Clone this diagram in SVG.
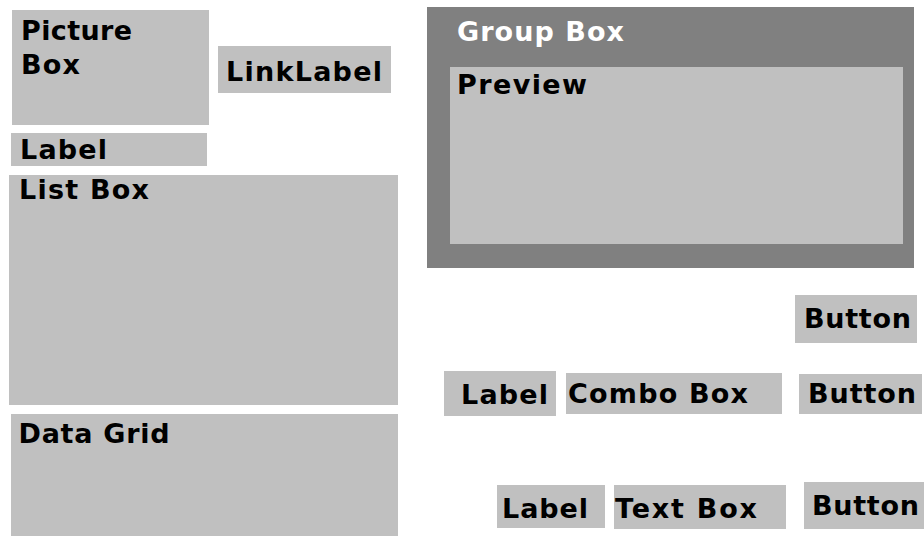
<svg xmlns="http://www.w3.org/2000/svg" width="924" height="536" viewBox="0 0 924 536">
<style>
.ctl{fill:#c0c0c0}
.grp{fill:#808080}
text{font-family:"DejaVu Sans","Verdana",sans-serif;font-weight:bold;font-size:27px;fill:#000}
.w{fill:#fff}
</style>
<rect width="924" height="536" fill="#fff"/>
<g id="picturebox"><rect class="ctl" x="12" y="10" width="197" height="115"/>
<text x="21" y="40" font-size="24" textLength="111">Picture</text>
<text x="21" y="74" font-size="24" textLength="59">Box</text></g>
<g id="linklabel"><rect class="ctl" x="218" y="46" width="173" height="47"/>
<text x="226" y="81" font-size="28" textLength="156">LinkLabel</text></g>
<g id="label1"><rect class="ctl" x="11" y="133" width="196" height="33"/>
<text x="20" y="159" textLength="87">Label</text></g>
<g id="listbox"><rect class="ctl" x="9" y="175" width="389" height="230"/>
<text x="19" y="199" font-size="26" textLength="130">List Box</text></g>
<g id="datagrid"><rect class="ctl" x="11" y="414" width="387" height="122"/>
<text x="18.5" y="443" font-size="26" textLength="151">Data Grid</text></g>
<g id="groupbox"><rect class="grp" x="427" y="7" width="487" height="261"/>
<text class="w" x="457" y="41" font-size="26" textLength="167">Group Box</text></g>
<g id="preview"><rect class="ctl" x="450" y="67" width="453" height="177"/>
<text x="457" y="94" textLength="130">Preview</text></g>
<g id="button1"><rect class="ctl" x="795" y="295" width="122" height="48"/>
<text x="804" y="328" textLength="107">Button</text></g>
<g id="label2"><rect class="ctl" x="444" y="371" width="112" height="45"/>
<text x="461" y="404" textLength="87">Label</text></g>
<g id="combobox"><rect class="ctl" x="566" y="373" width="216" height="41"/>
<text x="568" y="403" textLength="180">Combo Box</text></g>
<g id="button2"><rect class="ctl" x="799" y="374" width="123" height="40"/>
<text x="808" y="403" textLength="108">Button</text></g>
<g id="label3"><rect class="ctl" x="497" y="485" width="108" height="43"/>
<text x="502" y="518" textLength="86">Label</text></g>
<g id="textbox"><rect class="ctl" x="614" y="485" width="172" height="44"/>
<text x="615" y="518" textLength="142">Text Box</text></g>
<g id="button3"><rect class="ctl" x="804" y="482" width="120" height="47"/>
<text x="812" y="515" textLength="107">Button</text></g>
<g id="connectors"></g>
</svg>
